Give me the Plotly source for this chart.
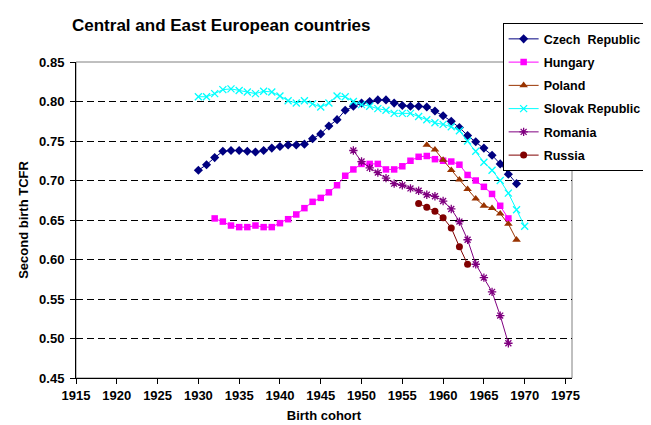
import plotly.graph_objects as go

# ---- data ----
czech_years = list(range(1930, 1970))
czech = [0.713, 0.720, 0.729, 0.737, 0.738, 0.738, 0.737, 0.736, 0.738, 0.741,
         0.743, 0.745, 0.745, 0.746, 0.753, 0.759, 0.769, 0.777, 0.789, 0.794,
         0.798, 0.800, 0.802, 0.802, 0.798, 0.795, 0.794, 0.794, 0.793, 0.788,
         0.782, 0.775, 0.767, 0.757, 0.749, 0.741, 0.732, 0.721, 0.708, 0.696]

hungary_years = list(range(1932, 1969))
hungary = [0.652, 0.648, 0.643, 0.641, 0.641, 0.643, 0.641, 0.641, 0.646, 0.651,
           0.657, 0.665, 0.673, 0.678, 0.685, 0.694, 0.706, 0.714, 0.721, 0.721,
           0.721, 0.714, 0.714, 0.718, 0.725, 0.730, 0.731, 0.727, 0.725, 0.724,
           0.720, 0.707, 0.700, 0.692, 0.683, 0.668, 0.652]

poland_years = list(range(1958, 1970))
poland = [0.745, 0.739, 0.726, 0.713, 0.701, 0.689, 0.677, 0.668, 0.665, 0.658,
          0.645, 0.625]

slovak_years = list(range(1930, 1971))
slovak = [0.806, 0.806, 0.810, 0.815, 0.816, 0.814, 0.812, 0.810, 0.813, 0.812,
          0.807, 0.801, 0.798, 0.801, 0.797, 0.793, 0.798, 0.807, 0.806, 0.800,
          0.796, 0.794, 0.791, 0.789, 0.785, 0.785, 0.785, 0.781, 0.777, 0.773,
          0.771, 0.768, 0.763, 0.750, 0.737, 0.723, 0.713, 0.700, 0.684, 0.663,
          0.642]

romania_years = list(range(1949, 1969))
romania = [0.738, 0.724, 0.716, 0.710, 0.703, 0.696, 0.694, 0.690, 0.687, 0.682,
           0.680, 0.674, 0.664, 0.648, 0.625, 0.594, 0.577, 0.559, 0.529, 0.494]

russia_years = list(range(1957, 1964))
russia = [0.671, 0.666, 0.661, 0.653, 0.640, 0.616, 0.594]

series = [
    ("Czech\u00a0 Republic", czech_years, czech, "#000080", "diamond", 7),
    ("Hungary", hungary_years, hungary, "#FF00FF", "square", 6.5),
    ("Poland", poland_years, poland, "#993300", "triangle-up", 7.5),
    ("Slovak Republic", slovak_years, slovak, "#00FFFF", "x-thin", 7),
    ("Romania", romania_years, romania, "#800080", "asterisk", 7),
    ("Russia", russia_years, russia, "#800000", "circle", 7),
]

FONT = "Liberation Sans, Arial, sans-serif"

fig = go.Figure()
for i, (name, xs, ys, col, sym, sz) in enumerate(series):
    thin = sym in ("x-thin", "asterisk")
    fig.add_trace(go.Scatter(
        x=xs, y=ys, name=name, mode="lines+markers", legendgroup=f"g{i}",
        line=dict(color=col, width=1),
        marker=dict(symbol=sym, size=sz, color=col,
                    line=dict(color=col, width=1.3 if thin else 0)),
    ))

# plot-area border (grey top/right)
fig.add_shape(type="rect", xref="paper", yref="paper", x0=0, y0=0, x1=1, y1=1,
              line=dict(color="#808080", width=1), layer="below")

fig.update_layout(
    width=651, height=425,
    margin=dict(l=68, r=61, t=54, b=53),
    plot_bgcolor="white", paper_bgcolor="white",
    font=dict(family=FONT, size=12, color="black"),
    title=dict(text="<b>Central and East European countries</b>",
               font=dict(family=FONT, size=17, color="black"),
               x=64 / 651, xref="container", xanchor="left",
               y=1 - 17 / 425, yref="container", yanchor="middle"),
    showlegend=True,
    legend=dict(x=(517 - 68) / 522, y=(372 - 15) / 318, xanchor="left", yanchor="top",
                bgcolor="white", bordercolor="black", borderwidth=1,
                font=dict(family=FONT, size=12.5, color="black", weight="bold"),
                tracegroupgap=4),
    xaxis=dict(range=[1915, 1975.8], tickmode="linear", tick0=1915, dtick=5,
               ticks="outside", ticklen=5, tickcolor="black",
               showline=True, linecolor="black", linewidth=1,
               showgrid=False, zeroline=False,
               tickfont=dict(family=FONT, size=13, color="black", weight="bold"),
               title=dict(text="Birth cohort", standoff=9,
                          font=dict(family=FONT, size=13, color="black", weight="bold"))),
    yaxis=dict(range=[0.45, 0.85], tickmode="linear", tick0=0.45, dtick=0.05,
               tickformat=".2f", ticklabelstandoff=3,
               ticks="outside", ticklen=5, tickcolor="black",
               showline=True, linecolor="black", linewidth=1,
               showgrid=True, gridcolor="black", gridwidth=1, griddash="7px,4px",
               zeroline=False,
               tickfont=dict(family=FONT, size=13, color="black", weight="bold"),
               title=dict(text="Second birth TCFR", standoff=7,
                          font=dict(family=FONT, size=13, color="black", weight="bold"))),
)

fig.write_html("out.html")
